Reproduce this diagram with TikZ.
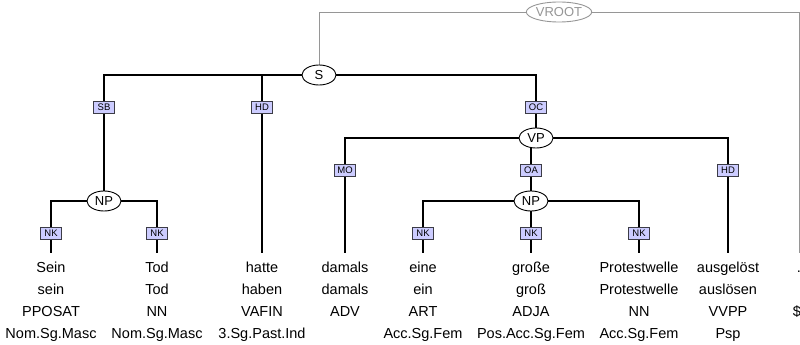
\documentclass[tikz,border=0pt]{standalone}
\usepackage{fontspec}
\setmainfont{Liberation Sans}
\usetikzlibrary{shapes.geometric}
\pgfdeclarelayer{bg}
\pgfsetlayers{bg,main}
\definecolor{lblfill}{RGB}{204,204,255}
\definecolor{lbldraw}{RGB}{60,60,70}
\definecolor{rootgray}{RGB}{150,150,150}
\tikzset{
  cat/.style={ellipse, draw=black, fill=white, line width=0.9pt, inner sep=0pt,
    minimum width=34pt, minimum height=20pt, font=\fontsize{13}{13}\selectfont},
  rootcat/.style={cat, draw=rootgray, text=rootgray, minimum width=60pt},
  func/.style={rectangle, draw=lbldraw, fill=lblfill, line width=0.7pt, inner sep=0pt,
    minimum width=21pt, minimum height=12pt, font=\fontsize{9.5}{9.5}\selectfont},
  word/.style={anchor=base, inner xsep=0pt, inner ysep=8pt, text height=11pt, text depth=3pt,
    font=\fontsize{14.5}{17}\selectfont},
  info/.style={anchor=base, inner sep=0pt, font=\fontsize{14.5}{17}\selectfont},
  edge/.style={draw=black, line width=1.1pt},
  rootedge/.style={draw=rootgray, line width=0.9pt}
}
\begin{document}
\begin{tikzpicture}[x=1pt,y=-1pt]
\useasboundingbox (0,0) rectangle (800,345);
\clip (0,0) rectangle (800,345);

% tokens: word form, lemma, POS tag, morphology
\foreach \n/\x/\w/\l/\p/\m in {
  1/51/Sein/sein/PPOSAT/Nom.Sg.Masc,
  2/157/Tod/Tod/NN/Nom.Sg.Masc,
  3/262/hatte/haben/VAFIN/3.Sg.Past.Ind,
  4/345/damals/damals/ADV/{},
  5/423/eine/ein/ART/Acc.Sg.Fem,
  6/531/große/groß/ADJA/Pos.Acc.Sg.Fem,
  7/639/Protestwelle/Protestwelle/NN/Acc.Sg.Fem,
  8/728/ausgelöst/auslösen/VVPP/Psp,
  9/799/./{}/\$./{}} {
  \node[word] (w\n) at (\x,272) {\w};
  \node[info] (l\n) at (\x,294) {\l};
  \node[info] (p\n) at (\x,316) {\p};
  \node[info] (m\n) at (\x,338) {\m};
}

% phrase nodes
\node[rootcat] (vroot) at (559,12) {VROOT};
\node[cat] (S) at (319,75) {S};
\node[cat] (np1) at (104,201) {NP};
\node[cat] (vp) at (536,138) {VP};
\node[cat] (np2) at (531,201) {NP};

% edge labels
\node[func] (fSB) at (104,107) {SB};
\node[func] (fHD1) at (262,107) {HD};
\node[func] (fOC) at (536,107) {OC};
\node[func] (fMO) at (345,170) {MO};
\node[func] (fOA) at (531,170) {OA};
\node[func] (fHD2) at (728,170) {HD};
\node[func] (fNK1) at (51,233) {NK};
\node[func] (fNK2) at (157,233) {NK};
\node[func] (fNK3) at (423,233) {NK};
\node[func] (fNK4) at (531,233) {NK};
\node[func] (fNK5) at (639,233) {NK};

% connectors, drawn beneath the nodes
\begin{pgfonlayer}{bg}
  \draw[rootedge] (vroot.center) -| (S.center);
  \draw[rootedge] (vroot.center) -| (w9.north);
  \draw[edge] (S.center) -| (np1.center);
  \draw[edge] (S.center) -| (w3.north);
  \draw[edge] (S.center) -| (vp.center);
  \draw[edge] (np1.center) -| (w1.north);
  \draw[edge] (np1.center) -| (w2.north);
  \draw[edge] (vp.center) -| (w4.north);
  \draw[edge] (vp.center) -| (np2.center);
  \draw[edge] (vp.center) -| (w8.north);
  \draw[edge] (np2.center) -| (w5.north);
  \draw[edge] (np2.center) -| (w6.north);
  \draw[edge] (np2.center) -| (w7.north);
\end{pgfonlayer}
\end{tikzpicture}
\end{document}
